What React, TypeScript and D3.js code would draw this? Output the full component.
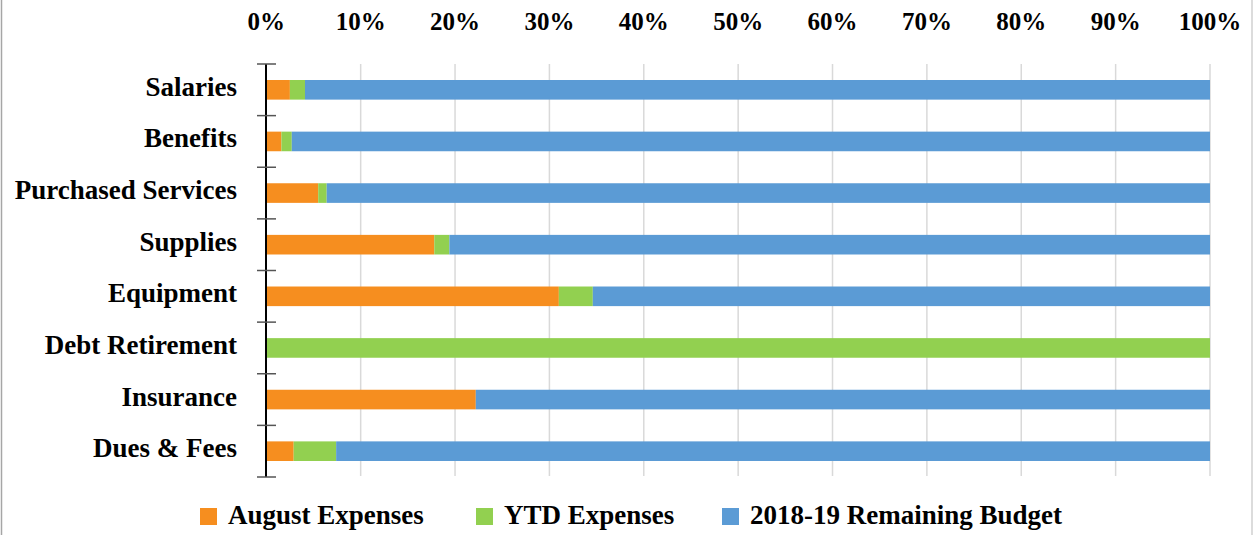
import React from "react";
import * as d3 from "d3";

const categories = ["Salaries", "Benefits", "Purchased Services", "Supplies", "Equipment", "Debt Retirement", "Insurance", "Dues & Fees"];
const augustExpenses = [2.5, 1.6, 5.5, 17.8, 31.0, 0, 22.2, 2.9];
const ytdExpenses = [1.6, 1.1, 0.9, 1.6, 3.6, 100, 0, 4.5];
const remainingBudget = [95.9, 97.3, 93.6, 80.6, 65.4, 0, 77.8, 92.6];
const seriesNames = ["August Expenses", "YTD Expenses", "2018-19 Remaining Budget"];
const seriesColors = ["#F68E1F", "#92D050", "#5B9BD5"];
const tickValues = [0, 10, 20, 30, 40, 50, 60, 70, 80, 90, 100];

const W = 1254, H = 535;
const FONT = "'Liberation Serif', 'Times New Roman', serif";

export default function App() {
  const x = d3.scaleLinear().domain([0, 100]).range([266.3, 1210]);
  const y = d3.scaleBand<string>().domain(categories).range([64, 477]).paddingInner(0.62).paddingOuter(0.31);
  const rows = categories.map((c, i) => ({
    cat: c,
    a: augustExpenses[i],
    b: ytdExpenses[i],
    r: remainingBudget[i],
  }));
  const stack = d3.stack<any>().keys(["a", "b", "r"]).offset(d3.stackOffsetExpand);
  const layers = stack(rows);
  const step = y.step();
  const tickYs = d3.range(categories.length + 1).map((i) => 64 + i * step);

  const legendItems = [
    { sq: 200, tx: 228 },
    { sq: 476, tx: 504 },
    { sq: 722, tx: 750 },
  ];

  return (
    <div style={{ position: "fixed", left: 0, top: 0 }}>
      <svg width={W} height={H} style={{ display: "block", background: "#fff" }}>
        <line x1={1.5} x2={1.5} y1={0} y2={H} stroke="#A6A6A6" strokeWidth={1.5} />
        <line x1={1252} x2={1252} y1={0} y2={H} stroke="#D0D0D0" strokeWidth={1.5} />
        {tickValues.slice(1).map((t) => (
          <line key={t} x1={x(t)} x2={x(t)} y1={64} y2={476} stroke="#D9D9D9" strokeWidth={1.5} />
        ))}
        {layers.map((layer, li) => (
          <g key={li} fill={seriesColors[li]}>
            {layer.map((d: any, i: number) => {
              const w = x(d[1] * 100) - x(d[0] * 100);
              if (w <= 0) return null;
              return (
                <rect key={i} x={x(d[0] * 100)} y={y(categories[i])} width={w} height={y.bandwidth()} />
              );
            })}
          </g>
        ))}
        <line x1={266} x2={266} y1={64} y2={477} stroke="#000" strokeWidth={2} />
        {tickYs.map((ty, i) => (
          <line key={i} x1={257} x2={276} y1={ty} y2={ty} stroke="#555" strokeWidth={1.5} />
        ))}
        {tickValues.map((t) => (
          <text key={t} x={x(t)} y={30} textAnchor="middle" fontFamily={FONT} fontWeight="bold" fontSize={25} fill="#000">
            {t + "%"}
          </text>
        ))}
        {categories.map((c) => (
          <text key={c} x={237} y={(y(c) as number) + y.bandwidth() / 2 + 6} textAnchor="end" fontFamily={FONT} fontWeight="bold" fontSize={27} fill="#000">
            {c}
          </text>
        ))}
        {seriesNames.map((s, i) => (
          <g key={s}>
            <rect x={legendItems[i].sq} y={508} width={17} height={17} fill={seriesColors[i]} />
            <text x={legendItems[i].tx} y={524} fontFamily={FONT} fontWeight="bold" fontSize={27} fill="#000">
              {s}
            </text>
          </g>
        ))}
      </svg>
    </div>
  );
}
